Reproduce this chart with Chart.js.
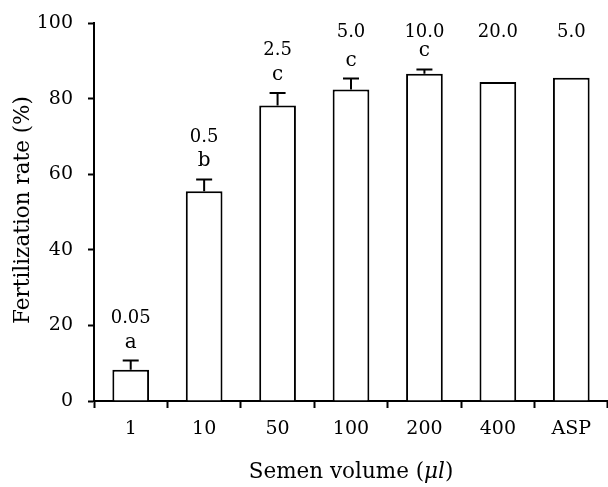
<!DOCTYPE html>
<html>
<head>
<meta charset="utf-8">
<script src="https://cdn.jsdelivr.net/npm/chart.js@4.4.1/dist/chart.umd.min.js"></script>
<style>
html,body{margin:0;padding:0;background:#fff;}
#wrap{width:608px;height:487px;}
</style>
</head>
<body>
<div id="wrap"><canvas id="c" width="608" height="487"></canvas></div>
<script>
const categories = ["1", "10", "50", "100", "200", "400", "ASP"];
const fertilizationRate = [8.3, 55.5, 78.2, 82.4, 86.6, 84.4, 85.5];
const errorUp = [2.4, 3.1, 3.3, 2.9, 1.1, 0, 0];
const doseLabels = ["0.05", "0.5", "2.5", "5.0", "10.0", "20.0", "5.0"];
const letterLabels = ["a", "b", "c", "c", "c", "", ""];
const yTicks = [0, 20, 40, 60, 80, 100];

const FONT = '"DejaVu Serif", serif';
const TICK_FS = 19;
const NUM_FS = 18;
const LET_FS = 20;
const TITLE_FS = 21.5;

const annot = {
  id: 'annot',
  afterDatasetsDraw(chart) {
    const ctx = chart.ctx;
    const y = chart.scales.y;
    const ca = chart.chartArea;
    const meta = chart.getDatasetMeta(0);
    ctx.save();
    ctx.strokeStyle = '#000';
    ctx.fillStyle = '#000';
    ctx.lineWidth = 2;
    ctx.textAlign = 'center';
    ctx.textBaseline = 'alphabetic';
    meta.data.forEach((bar, i) => {
      const cx = bar.x;
      const top = y.getPixelForValue(fertilizationRate[i]);
      let capY = top;
      if (errorUp[i] > 0) {
        capY = y.getPixelForValue(fertilizationRate[i] + errorUp[i]);
        ctx.beginPath();
        ctx.moveTo(cx, top);
        ctx.lineTo(cx, capY);
        ctx.moveTo(cx - 8, capY);
        ctx.lineTo(cx + 8, capY);
        ctx.stroke();
      }
      const pinned = ca.top + 7;
      let numCenter = pinned;
      if (letterLabels[i]) {
        const letCenter = capY - 18;
        ctx.font = LET_FS + 'px ' + FONT;
        ctx.fillText(letterLabels[i], cx, letCenter + 5);
        numCenter = letCenter - 26;
        if (numCenter < ca.top + 20) numCenter = pinned;
      }
      ctx.font = NUM_FS + 'px ' + FONT;
      ctx.fillText(doseLabels[i], cx, numCenter + 6.5);
    });
    ctx.textBaseline = 'middle';
    ctx.textAlign = 'center';
    ctx.font = TITLE_FS + 'px ' + FONT;
    ctx.save();
    ctx.translate(23, 210);
    ctx.rotate(-Math.PI / 2);
    ctx.fillText('Fertilization rate (%)', 0, 0);
    ctx.restore();
    const p1 = 'Semen volume (', p2 = '\u03bcl', p3 = ')';
    const nf = TITLE_FS + 'px ' + FONT, itf = 'italic ' + TITLE_FS + 'px ' + FONT;
    ctx.font = nf; const w1 = ctx.measureText(p1).width, w3 = ctx.measureText(p3).width;
    ctx.font = itf; const w2 = ctx.measureText(p2).width;
    const total = w1 + w2 + w3;
    let sx = (ca.left + ca.right) / 2 - total / 2;
    const ty = 472;
    ctx.textAlign = 'left';
    ctx.font = nf; ctx.fillText(p1, sx, ty); sx += w1;
    ctx.font = itf; ctx.fillText(p2, sx, ty); sx += w2;
    ctx.font = nf; ctx.fillText(p3, sx, ty);
    ctx.restore();
  }
};

new Chart(document.getElementById('c'), {
  type: 'bar',
  data: {
    labels: categories,
    datasets: [{
      data: fertilizationRate,
      backgroundColor: '#fff',
      borderColor: '#000',
      borderWidth: 2,
      barPercentage: 0.5,
      categoryPercentage: 1.0
    }]
  },
  options: {
    responsive: false,
    animation: false,
    devicePixelRatio: 1,
    layout: { padding: { top: 23, right: 0, left: 0, bottom: 0 } },
    plugins: { legend: { display: false }, tooltip: { enabled: false } },
    scales: {
      x: {
        offset: true,
        grid: { offset: true, drawOnChartArea: false, drawTicks: true, tickLength: 7, tickWidth: 2, color: '#000' },
        border: { display: true, color: '#000', width: 2 },
        ticks: { color: '#000', font: { family: FONT, size: TICK_FS }, padding: 10, maxRotation: 0 },
        afterFit(s) { s.height = 86; s.paddingLeft = 0; s.paddingRight = 0; }
      },
      y: {
        min: 0, max: 100,
        afterBuildTicks(s) { s.ticks = yTicks.map(v => ({ value: v })); },
        grid: { drawOnChartArea: false, drawTicks: true, tickLength: 6, tickWidth: 2, color: '#000' },
        border: { display: true, color: '#000', width: 2 },
        ticks: { color: '#000', font: { family: FONT, size: TICK_FS }, padding: 15 },
        afterFit(s) { s.width = 94; s.paddingTop = 0; s.paddingBottom = 0; }
      }
    }
  },
  plugins: [annot]
});
</script>
</body>
</html>
